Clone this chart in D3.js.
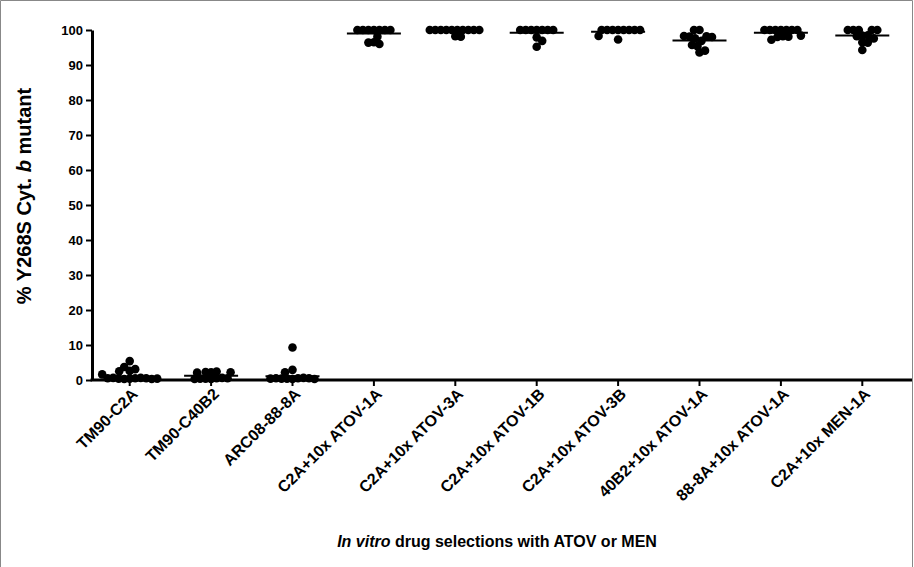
<!DOCTYPE html>
<html>
<head>
<meta charset="utf-8">
<script src="https://cdn.jsdelivr.net/npm/d3@7"></script>
<style>
  body { margin: 0; background: #fff; }
  svg { display: block; font-family: "Liberation Sans", Arial, sans-serif; }
</style>
</head>
<body>
<svg id="chart" width="914" height="567"></svg>
<script>
// groups on the x axis
const categories = ["TM90-C2A", "TM90-C40B2", "ARC08-88-8A", "C2A+10x ATOV-1A", "C2A+10x ATOV-3A",
  "C2A+10x ATOV-1B", "C2A+10x ATOV-3B", "40B2+10x ATOV-1A", "88-8A+10x ATOV-1A", "C2A+10x MEN-1A"];

// % mutant per clone, one array per selection
const tm90C2A = [0.4, 0.5, 0.3, 0.6, 0.4, 0.5, 0.6, 0.3, 0.5, 0.4, 2.6, 3.1, 5.4, 1.6, 3.7, 2.5];
const tm90C40B2 = [0.3, 0.5, 0.4, 0.6, 0.4, 0.5, 0.3, 2.2, 2.3, 2.1, 2.4, 2.2];
const arc08 = [0.3, 0.5, 0.4, 0.6, 0.4, 0.5, 0.5, 0.3, 0.4, 9.3, 2.9, 2.2];
const c2aAtov1A = [100, 100, 100, 100, 100, 100, 100, 96.5, 96.0, 96.4, 98.1];
const c2aAtov3A = [98.2, 98.1, 100, 100, 100, 100, 100, 100, 100, 100, 100, 100];
const c2aAtov1B = [100, 100, 100, 100, 100, 100, 100, 95.2, 97.9, 96.9];
const c2aAtov3B = [100, 100, 100, 100, 100, 100, 100, 100, 98.3, 97.3];
const b40Atov1A = [93.6, 94.1, 95.4, 95.7, 96.9, 97.6, 98.2, 98.1, 98.0, 98.3, 100, 100];
const a88Atov1A = [100, 100, 100, 100, 100, 100, 100, 98.2, 98.0, 98.4, 98.1, 97.2];
const c2aMen1A = [94.3, 96.5, 96.4, 98.4, 98.2, 98.5, 97.6, 100, 100, 100, 100, 100];

// median bar for each group
const medians = [0.95, 1.2, 1.1, 99, 100, 99.2, 99.5, 97, 99.2, 98.4];

const yTicks = d3.range(0, 101, 10);

const series = [tm90C2A, tm90C40B2, arc08, c2aAtov1A, c2aAtov3A, c2aAtov1B, c2aAtov3B, b40Atov1A, a88Atov1A, c2aMen1A];

const svg = d3.select("#chart");

// frame round the figure
svg.append("path")
  .attr("d", "M0.5,567 V0.5 H912.5 V567")
  .attr("fill", "none")
  .attr("stroke", "#888")
  .attr("stroke-width", 1);

var x = d3.scaleBand()
  .domain(categories)
  .range([89, 903]);

var y = d3.scaleLinear()
  .domain([0, 100])
  .range([380, 30]);

// y axis
var yAxis = svg.append("g")
  .attr("transform", "translate(92,0)")
  .call(d3.axisLeft(y).tickValues(yTicks).tickSize(6).tickPadding(3).tickSizeOuter(0));
yAxis.select(".domain").attr("stroke-width", 3).attr("stroke", "#000");
yAxis.selectAll(".tick line").attr("stroke-width", 2);
yAxis.selectAll(".tick text")
  .attr("font-size", 13)
  .attr("font-weight", "bold")
  .attr("fill", "#000")
  .attr("font-family", "Liberation Sans, Arial, sans-serif");

// x axis
var xAxis = svg.append("g")
  .attr("transform", "translate(0," + y(0) + ")")
  .call(d3.axisBottom(x).tickSize(6).tickSizeOuter(0));
xAxis.select(".domain").remove();
xAxis.selectAll(".tick line").attr("stroke-width", 2);
xAxis.selectAll(".tick text")
  .attr("font-size", 16)
  .attr("font-weight", "bold")
  .attr("fill", "#000")
  .attr("font-family", "Liberation Sans, Arial, sans-serif")
  .attr("text-anchor", "end")
  .attr("transform", "translate(5,11) rotate(-45)")
  .attr("x", 0)
  .attr("y", 0)
  .attr("dy", "0.35em");

svg.append("line")
  .attr("x1", 90.5).attr("x2", 912)
  .attr("y1", y(0)).attr("y2", y(0))
  .attr("stroke", "#000")
  .attr("stroke-width", 3);

// beeswarm: equal values sit in a tight row, others keep a dot's distance
function swarm(vals, cx) {
  var row = 5.5, gap = 6.5, placed = [];
  vals.forEach(function (v) {
    var py = y(v);
    for (var k = 0; k < 200; k++) {
      var off = (k % 2 ? 1 : -1) * Math.ceil(k / 2) * 0.5;
      var ok = placed.every(function (p) {
        var dx = p.x - (cx + off), dy = p.y - py;
        if (Math.abs(dy) < 2) return Math.abs(dx) >= row;
        return dx * dx + dy * dy >= gap * gap;
      });
      if (ok) { placed.push({ x: cx + off, y: py }); break; }
    }
  });
  return placed;
}

var groups = svg.append("g");
series.forEach(function (vals, i) {
  var cx = x(categories[i]) + x.bandwidth() / 2;
  groups.append("g")
    .selectAll("circle")
    .data(swarm(vals, cx))
    .enter()
    .append("circle")
    .attr("cx", function (d) { return d.x; })
    .attr("cy", function (d) { return d.y; })
    .attr("r", 4.3)
    .attr("fill", "#000");
  groups.append("line")
    .attr("x1", cx - 27).attr("x2", cx + 27)
    .attr("y1", y(medians[i])).attr("y2", y(medians[i]))
    .attr("stroke", "#000")
    .attr("stroke-width", 2);
});

// axis titles
var yt = svg.append("text")
  .attr("transform", "translate(31,196) rotate(-90)")
  .attr("text-anchor", "middle")
  .attr("font-size", 20)
  .attr("font-weight", "bold");
yt.append("tspan").text("% Y268S Cyt. ");
yt.append("tspan").attr("font-style", "italic").text("b");
yt.append("tspan").text(" mutant");

var xt = svg.append("text")
  .attr("x", 497)
  .attr("y", 547)
  .attr("text-anchor", "middle")
  .attr("font-size", 16)
  .attr("font-weight", "bold");
xt.append("tspan").attr("font-style", "italic").text("In vitro");
xt.append("tspan").text(" drug selections with ATOV or MEN");
</script>
</body>
</html>
